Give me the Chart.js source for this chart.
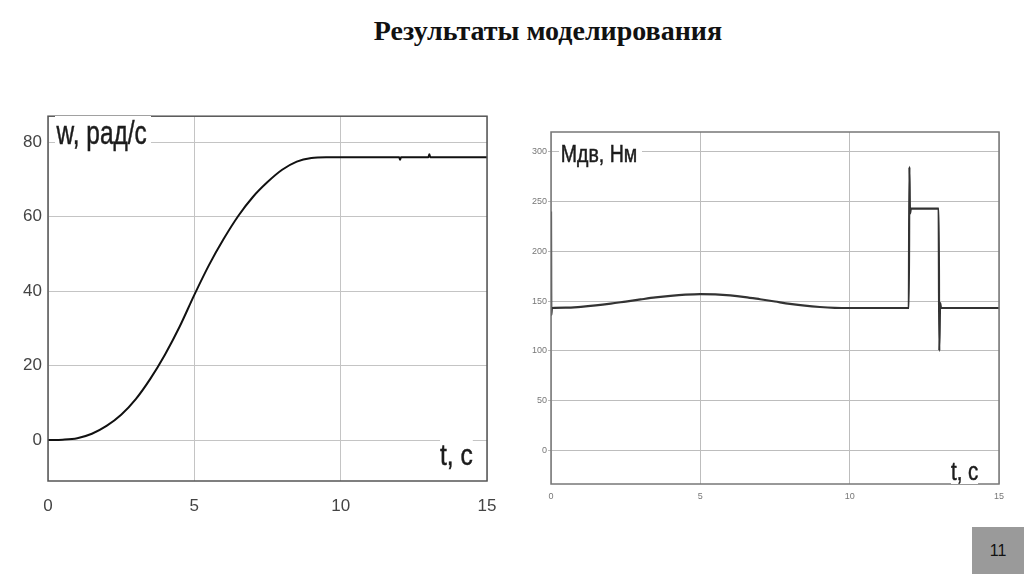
<!DOCTYPE html>
<html>
<head>
<meta charset="utf-8">
<script src="https://cdn.jsdelivr.net/npm/chart.js@4.4.1/dist/chart.umd.min.js"></script>
<style>
  body { margin: 0; width: 1024px; height: 574px; background: #fff; position: relative; overflow: hidden; font-family: "Liberation Sans", Arial, sans-serif; }
  #title { position: absolute; left: 0; width: 1096px; top: 15px; text-align: center; font: bold 28px "Liberation Serif", "Times New Roman", serif; color: #111; }
  canvas { position: absolute; }
  #cW { left: 0; top: 100px; }
  #cM { left: 512px; top: 120px; }
  .lbl { position: absolute; background: #fff; color: #1c1c1c; white-space: nowrap; transform-origin: left top; line-height: 1; -webkit-text-stroke: 0.5px #1c1c1c; }
  #page { position: absolute; left: 972px; top: 527px; width: 52px; height: 47px; background: #9a9a9a; color: #111; font-size: 16px; text-align: center; line-height: 47px; }
</style>
</head>
<body>
<div id="title">Результаты моделирования</div>
<canvas id="cW" width="512" height="430"></canvas>
<canvas id="cM" width="512" height="400"></canvas>
<div class="lbl" style="left:55px;top:116px;font-size:33px;transform:scaleX(0.74);padding:0 6px 0 2px;">w, рад/с</div>
<div class="lbl" style="left:440px;top:440px;font-size:30px;transform:scaleX(0.82);">t, с</div>
<div class="lbl" style="left:559px;top:143px;font-size:23px;transform:scaleX(0.85);padding:0 6px 0 2px;">Мдв, Нм</div>
<div class="lbl" style="left:951px;top:459px;font-size:25px;transform:scaleX(0.82);">t, с</div>
<div id="page">11</div>
<script>
// speed, rad/s
const tW = [0, 0.5, 1, 1.5, 2, 2.5, 3, 3.5, 4, 4.5, 5, 5.5, 6, 6.5, 7, 7.5, 8, 8.5, 9, 9.5, 10, 12, 12.03, 12.06, 13, 13.03, 13.06, 15];
const wValues = [0, 0.1, 0.5, 1.7, 3.8, 6.8, 11, 16.5, 23, 30.5, 39, 47, 54, 60.2, 65.3, 69.3, 72.6, 74.8, 75.8, 76, 76, 76, 75.3, 76, 76, 76.8, 76, 76];
const wTicks = [0, 20, 40, 60, 80];

// motor torque, N*m
const tM = [0, 0.01, 0.03, 0.5, 1, 1.5, 2, 2.5, 3, 3.5, 4, 4.5, 5, 5.5, 6, 6.5, 7, 7.5, 8, 8.5, 9, 9.5, 10, 11.98, 12.0, 12.02, 12.05, 12.98, 13.0, 13.03, 13.06, 15];
const mValues = [240, 136, 143, 143.3, 144.2, 145.6, 147.4, 149.5, 151.6, 153.6, 155.2, 156.4, 157, 156.7, 155.7, 154, 151.8, 149.5, 147.2, 145.3, 144, 143.2, 143, 143, 285, 238, 243, 243, 100, 148, 143, 143];
const mTicks = [0, 50, 100, 150, 200, 250, 300];

const timeTicks = [0, 5, 10, 15];

const boxPlugin = {
  id: 'box',
  afterDatasetsDraw(chart, args, opts) {
    const a = chart.chartArea, ctx = chart.ctx;
    ctx.save();
    ctx.strokeStyle = opts.color;
    ctx.lineWidth = opts.width;
    ctx.strokeRect(a.left, a.top, a.right - a.left, a.bottom - a.top);
    ctx.restore();
  }
};

function makeChart(id, xs, ys, yMin, yMax, yTicks, cfg) {
  return new Chart(document.getElementById(id), {
    type: 'line',
    data: { datasets: [{ data: xs.map((x, i) => ({ x: x, y: ys[i] })), borderColor: cfg.lineColor, borderWidth: cfg.lineWidth, pointRadius: 0, cubicInterpolationMode: 'monotone', fill: false }] },
    options: {
      responsive: false,
      animation: false,
      layout: { padding: { top: cfg.padTop, right: cfg.padRight, left: 0, bottom: 0 } },
      plugins: { legend: { display: false }, tooltip: { enabled: false }, box: { color: cfg.boxColor, width: 1.5 } },
      scales: {
        x: {
          type: 'linear', min: 0, max: 15,
          afterBuildTicks: s => { s.ticks = timeTicks.map(v => ({ value: v })); },
          afterFit: s => { s.height = cfg.xH; },
          grid: { color: cfg.gridColor, drawTicks: false },
          border: { display: false },
          ticks: { padding: cfg.xPad, color: cfg.tickColor, font: { size: cfg.tickSize, family: 'Liberation Sans' }, maxRotation: 0 }
        },
        y: {
          type: 'linear', min: yMin, max: yMax,
          afterBuildTicks: s => { s.ticks = yTicks.map(v => ({ value: v })); },
          afterFit: s => { s.width = cfg.yW; },
          grid: { color: cfg.gridColor, drawTicks: cfg.yTickLen > 0, tickLength: cfg.yTickLen },
          border: { display: false },
          ticks: { padding: cfg.yPad, color: cfg.tickColor, font: { size: cfg.tickSize, family: 'Liberation Sans' } }
        }
      }
    },
    plugins: [boxPlugin]
  });
}

makeChart('cW', tW, wValues, -11, 87, wTicks, {
  lineColor: '#111', lineWidth: 2, boxColor: '#555', gridColor: '#c4c4c4', tickColor: '#444', tickSize: 17,
  padTop: 13, padRight: 25, xH: 49, yW: 48, xPad: 15, yPad: 6, yTickLen: 0
});

makeChart('cM', tM, mValues, -34, 320, mTicks, {
  lineColor: '#333', lineWidth: 2.2, boxColor: '#777', gridColor: '#bdbdbd', tickColor: '#777', tickSize: 9,
  padTop: 12, padRight: 25, xH: 36, yW: 39, xPad: 7, yPad: 1, yTickLen: 3
});
</script>
</body>
</html>
